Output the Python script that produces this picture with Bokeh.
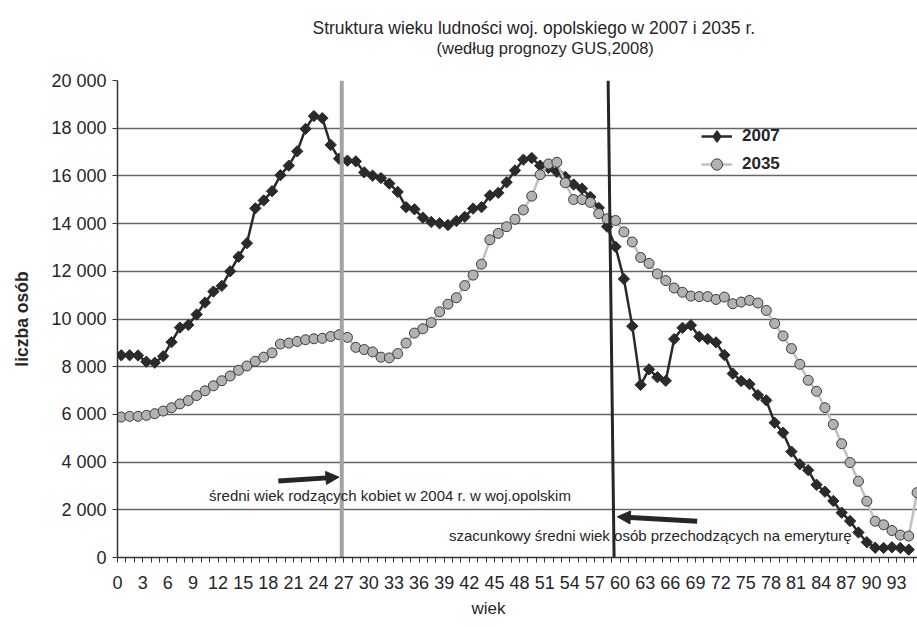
import numpy as np
from bokeh.plotting import figure
from bokeh.models import (Range1d, FixedTicker, CustomJSTickFormatter, Label, Arrow,
                          NormalHead, Legend, LegendItem, Title)
from bokeh.embed import file_html
from bokeh.resources import INLINE

# ---------------- data ----------------
ages_2007 = list(range(95))
pop_2007 = [8480, 8480, 8470, 8210, 8170, 8440, 9030, 9640, 9750, 10190,
            10690, 11150, 11390, 12000, 12610, 13180, 14640, 14970, 15360, 16030,
            16430, 17030, 17970, 18510, 18420, 17300, 16720, 16640, 16610, 16150,
            16010, 15910, 15680, 15330, 14690, 14600, 14250, 14070, 14010, 13940,
            14110, 14280, 14630, 14690, 15180, 15290, 15730, 16230, 16680, 16750,
            16430, 16330, 16170, 15960, 15640, 15470, 15120, 14660, 13870, 13030,
            11680, 9700, 7240, 7890, 7560, 7410, 9160, 9630, 9740, 9260,
            9160, 9020, 8490, 7710, 7400, 7270, 6810, 6590, 5650, 5230,
            4440, 3910, 3660, 3050, 2760, 2370, 1880, 1530, 1050, 640,
            410, 400, 430, 400, 330]

ages_2035 = list(range(96))
pop_2035 = [5890, 5920, 5920, 5960, 6030, 6140, 6280, 6440, 6580, 6790,
            6990, 7200, 7410, 7610, 7850, 8030, 8230, 8400, 8580, 8950,
            8990, 9060, 9130, 9170, 9190, 9270, 9340, 9230, 8810, 8720,
            8620, 8400, 8370, 8550, 8990, 9410, 9590, 9850, 10300, 10620,
            10890, 11400, 11840, 12300, 13320, 13590, 13870, 14180, 14570, 15150,
            16050, 16500, 16570, 15710, 15010, 15010, 14890, 14420, 14200, 14130,
            13650, 13230, 12580, 12330, 11890, 11610, 11300, 11120, 10960, 10940,
            10940, 10820, 10920, 10640, 10710, 10780, 10670, 10360, 9810, 9290,
            8760, 8100, 7430, 6970, 6280, 5580, 4770, 3980, 3200, 2360,
            1520, 1370, 1130, 940, 900, 2720]

x_tick_ages = list(range(96))
y_ticks = list(range(0, 20001, 2000))
y_tick_labels = ["0", "2 000", "4 000", "6 000", "8 000", "10 000",
                 "12 000", "14 000", "16 000", "18 000", "20 000"]

series_names = ["2007", "2035"]
title_lines = ["Struktura wieku ludności woj. opolskiego w 2007 i 2035 r.",
               "(według prognozy GUS,2008)"]
x_title = "wiek"
y_title = "liczba osób"
note_birth = "średni wiek rodzących kobiet w 2004 r. w woj.opolskim"
note_retire = "szacunkowy średni wiek osób przechodzących na emeryturę"

FONT = "Liberation Sans"
TXT = "#262626"
DARK = "#2a2a2a"
OFF = 0.45  # tick marks sit between categories; points at category centres

p = figure(width=917, height=627, output_backend="svg", toolbar_location=None,
           title=None,
           x_range=Range1d(-OFF, 95.05), y_range=Range1d(0, 20000),
           min_border_left=117, min_border_right=0, min_border_top=80,
           min_border_bottom=70)
p.outline_line_color = None
p.background_fill_color = "white"
p.xgrid.visible = False
p.ygrid.grid_line_color = "#666666"
p.ygrid.grid_line_width = 1.3

# x axis
p.xaxis.ticker = FixedTicker(ticks=[k - OFF for k in x_tick_ages], minor_ticks=[])
p.xaxis.formatter = CustomJSTickFormatter(
    code="const k = Math.round(tick + %f); return (k %% 3 === 0 && k < 95) ? String(k) : '';" % OFF)
# y axis
p.yaxis.ticker = FixedTicker(ticks=y_ticks, minor_ticks=[])
p.yaxis.major_label_overrides = {t: s for t, s in zip(y_ticks, y_tick_labels)}

for ax in (p.xaxis[0], p.yaxis[0]):
    ax.axis_line_color = "#333333"
    ax.axis_line_width = 1.5
    ax.major_tick_line_color = "#333333"
    ax.major_tick_in = 0
    ax.major_tick_out = 5
    ax.minor_tick_line_color = None
    ax.major_label_text_font = FONT
    ax.major_label_text_font_size = "18px"
    ax.major_label_text_color = TXT
p.xaxis.major_label_standoff = 13
p.yaxis.major_label_standoff = 6
p.yaxis.axis_label = y_title
p.yaxis.axis_label_text_font = FONT
p.yaxis.axis_label_text_font_style = "bold"
p.yaxis.axis_label_text_font_size = "17.5px"
p.yaxis.axis_label_text_color = TXT
p.yaxis.axis_label_standoff = 16

# series
l07 = p.line(ages_2007, pop_2007, line_color=DARK, line_width=2.5)
s07 = p.scatter(ages_2007, pop_2007, marker="square", angle=np.pi / 4, size=8,
                fill_color=DARK, line_color=DARK)
l35 = p.line(ages_2035, pop_2035, line_color="#c0c0c0", line_width=2.5)
s35 = p.scatter(ages_2035, pop_2035, marker="circle", size=10,
                fill_color="#b2b2b2", line_color="#3a3a3a", line_width=1)
# legend-only proxy for the 2007 marker (legend glyphs ignore marker angle)
k07 = p.scatter(x=[np.nan], y=[np.nan], marker="diamond", size=11, fill_color=DARK,
                line_color=DARK, line_width=1.5)

# marker lines
p.segment(x0=[26.32], y0=[0], x1=[26.32], y1=[20000], line_color="#a3a3a3", line_width=4)
p.segment(x0=[58.12], y0=[20000], x1=[58.83], y1=[0], line_color="#262626", line_width=3)

# arrows
p.add_layout(Arrow(end=NormalHead(size=13, fill_color="#262626", line_color="#262626"),
                   x_start=18.75, y_start=3210, x_end=25.99, y_end=3370,
                   line_width=5, line_color="#262626"))
p.add_layout(Arrow(end=NormalHead(size=13, fill_color="#262626", line_color="#262626"),
                   x_start=68.75, y_start=1520, x_end=59.22, y_end=1710,
                   line_width=5, line_color="#262626"))

# notes
p.add_layout(Label(x=10.48, y=2610, text=note_birth, text_font=FONT,
                   text_font_size="15px", text_color=TXT,
                   text_baseline="middle", text_align="left"))
p.add_layout(Label(x=39.12, y=925, text=note_retire, text_font=FONT,
                   text_font_size="15px", text_color=TXT,
                   text_baseline="middle", text_align="left"))

# titles (first added = nearest the frame)
t2 = Title(text=title_lines[1], align="left", offset=319, standoff=48,
           text_font=FONT, text_font_size="16.5px", text_font_style="normal",
           text_color=TXT)
t1 = Title(text=title_lines[0], align="left", offset=195, standoff=-51,
           text_font=FONT, text_font_size="17.5px", text_font_style="normal",
           text_color=TXT)
p.add_layout(t2, "above")
p.add_layout(t1, "above")
tx = Title(text=x_title, align="left", offset=354, standoff=10,
           text_font=FONT, text_font_size="17px", text_font_style="normal",
           text_color=TXT)
p.add_layout(tx, "below")

# legend
legend = Legend(items=[LegendItem(label=series_names[0], renderers=[l07, k07]),
                       LegendItem(label=series_names[1], renderers=[l35, s35])],
                location=(584, 379))
legend.border_line_color = None
legend.background_fill_alpha = 0
legend.label_text_font = FONT
legend.label_text_font_style = "bold"
legend.label_text_font_size = "17px"
legend.label_text_color = TXT
legend.glyph_width = 31
legend.glyph_height = 28
legend.label_height = 20
legend.spacing = 0
legend.padding = 0
legend.margin = 0
legend.label_standoff = 10
p.add_layout(legend)

open("out.html", "w").write(file_html(p, INLINE))
